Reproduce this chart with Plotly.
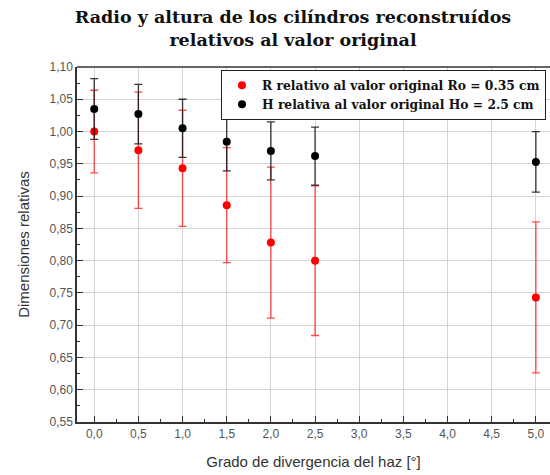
import plotly.graph_objects as go

x_vals = [0.0, 0.5, 1.0, 1.5, 2.0, 2.5, 5.0]
r_vals = [1.000, 0.971, 0.943, 0.886, 0.828, 0.800, 0.743]
r_err = [0.064, 0.090, 0.090, 0.089, 0.117, 0.116, 0.117]
h_vals = [1.035, 1.027, 1.005, 0.984, 0.970, 0.962, 0.953]
h_err = [0.047, 0.046, 0.045, 0.045, 0.045, 0.045, 0.047]

r_name = "R relativo al valor original Ro = 0.35 cm"
h_name = "H relativa al valor original Ho = 2.5 cm"
title_text = "Radio y altura de los cilíndros reconstruídos<br>relativos al valor original"
x_title = "Grado de divergencia del haz [°]"
y_title = "Dimensiones relativas"

fig = go.Figure()
fig.add_trace(go.Scatter(
    x=x_vals, y=r_vals, mode="markers", name=r_name,
    marker=dict(color="#ff0000", size=8),
    error_y=dict(type="data", array=r_err, visible=True,
                 color="rgba(255,30,30,0.8)", thickness=1.3, width=4),
))
fig.add_trace(go.Scatter(
    x=x_vals, y=h_vals, mode="markers", name=h_name,
    marker=dict(color="#000000", size=8),
    error_y=dict(type="data", array=h_err, visible=True,
                 color="rgba(20,20,20,0.85)", thickness=1.3, width=4),
))

fig.add_shape(type="line", xref="paper", yref="paper", x0=0, x1=1, y0=1, y1=1,
              line=dict(color="#333333", width=1.5))

fig.update_layout(
    width=550, height=475,
    margin=dict(l=77, r=0, t=67, b=53),
    paper_bgcolor="white", plot_bgcolor="white",
    separators=",.",
    showlegend=True,
    title=dict(text=title_text, x=293 / 550, xanchor="center", xref="container",
               y=1 - 23 / 475, yanchor="middle", yref="container",
               font=dict(family="DejaVu Serif", size=17.5, color="#111111", weight="bold")),
    legend=dict(x=0.3044, y=0.992, xanchor="left", yanchor="top",
                bgcolor="white", bordercolor="#222222", borderwidth=1,
                font=dict(family="DejaVu Serif", size=12.3, color="#111111", weight="bold"),
                itemsizing="trace", tracegroupgap=0,
                itemwidth=30),
    xaxis=dict(
        range=[-0.195, 5.16], tickmode="array",
        tickvals=[0, 0.5, 1, 1.5, 2, 2.5, 3, 3.5, 4, 4.5, 5],
        tickformat=".1f", ticks="inside", ticklen=6, tickcolor="#333333",
        minor=dict(ticks="inside", ticklen=3, tickcolor="#333333", dtick=0.25, tick0=0, showgrid=False),
        showgrid=True, gridcolor="#d4d4d4", gridwidth=1,
        showline=True, linecolor="#333333", linewidth=1.5,
        zeroline=False,
        tickfont=dict(family="Liberation Sans", size=12, color="#555555"),
        title=dict(text=x_title, font=dict(family="Liberation Sans", size=15, color="#333333"), standoff=16),
    ),
    yaxis=dict(
        range=[0.55, 1.10], tickmode="array",
        tickvals=[0.55, 0.60, 0.65, 0.70, 0.75, 0.80, 0.85, 0.90, 0.95, 1.00, 1.05, 1.10],
        tickformat=".2f", ticks="inside", ticklen=6, tickcolor="#333333",
        minor=dict(ticks="inside", ticklen=3, tickcolor="#333333", dtick=0.025, tick0=0.55, showgrid=False),
        showgrid=True, gridcolor="#d4d4d4", gridwidth=1,
        showline=True, linecolor="#333333", linewidth=1.5,
        zeroline=False,
        tickfont=dict(family="Liberation Sans", size=12, color="#555555"),
        title=dict(text=y_title, font=dict(family="Liberation Sans", size=15, color="#333333"), standoff=16),
    ),
)

fig.write_html("out.html")
